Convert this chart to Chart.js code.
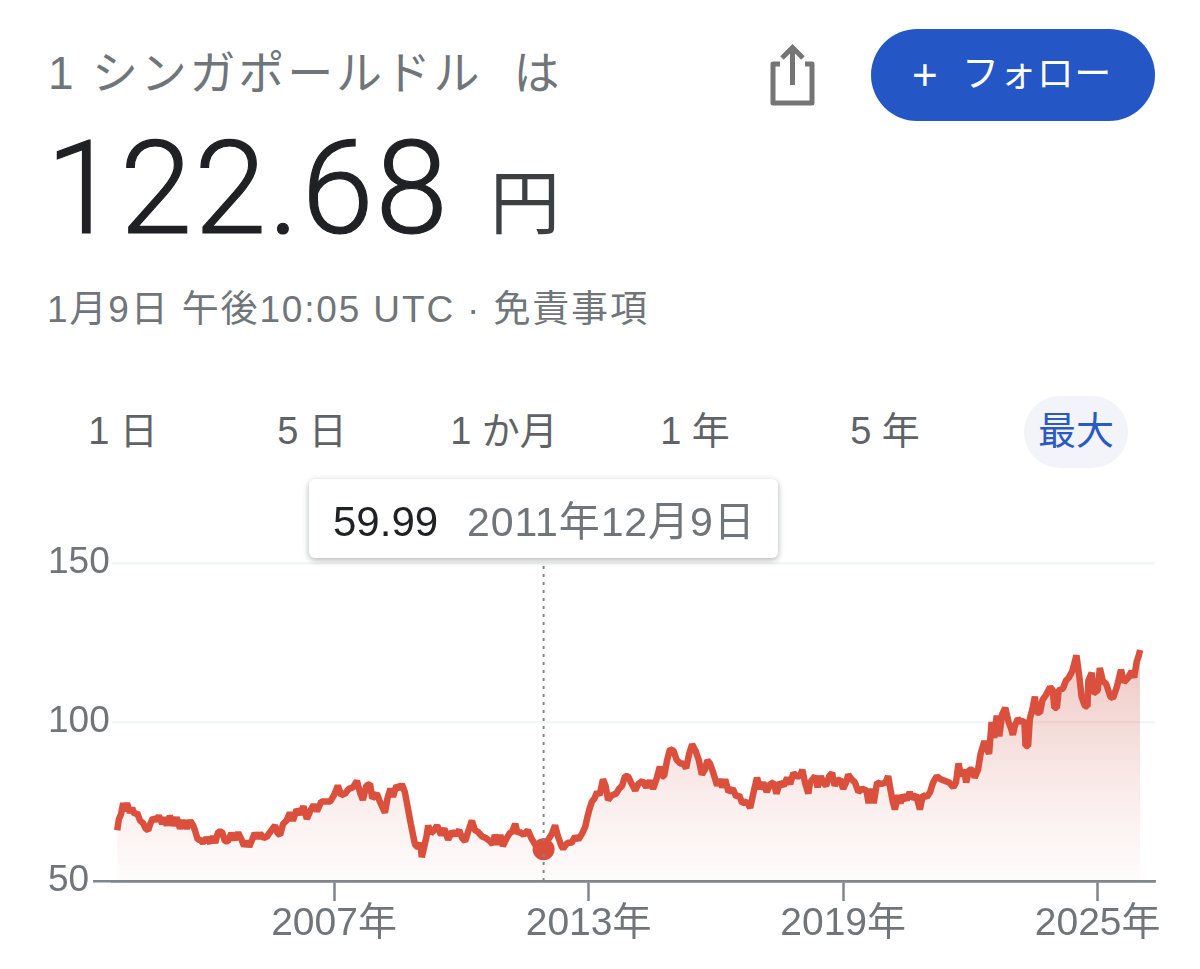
<!DOCTYPE html>
<html lang="ja">
<head>
<meta charset="UTF-8">
<title>SGD/JPY</title>
<script src="https://cdn.jsdelivr.net/npm/chart.js"></script>
<style>
  body { margin: 0; background: #fff; width: 1200px; height: 969px; overflow: hidden; position: relative;
         font-family: "Liberation Sans", "Noto Sans CJK JP", sans-serif; color: #70757a; }
  .t { position: absolute; white-space: pre; line-height: 1; }
  .tab { font-size: 38px; top: 412px; transform: translateX(-50%); color: #5f6368; }
  #chartBox { position: absolute; left: 0; top: 538px; }
  #btn { position: absolute; left: 871px; top: 29px; width: 284px; height: 92px; border-radius: 46px; background: #2456c6; }
  #bubble { position: absolute; left: 1024px; top: 396px; width: 104px; height: 72px; border-radius: 36px; background: #f2f4f9; }
  #tip { position: absolute; left: 309px; top: 479px; width: 469px; height: 79px; background: #fff; border-radius: 6px;
         box-shadow: 0 2px 6px rgba(60,64,67,.4); z-index: 2; }
</style>
</head>
<body>
  <div class="t" style="left:48px;top:50px;font-size:46px;letter-spacing:2.8px">1 シンガポールドル  は</div>
  <div class="t" style="left:46px;top:124px;font-size:130px;letter-spacing:2px;font-family:Roboto,sans-serif;font-weight:300;color:#202124;-webkit-text-stroke:1.2px #202124">122.68</div>
  <div class="t" style="left:490px;top:170px;font-size:70px;color:#3c4043">円</div>
  <div class="t" style="left:47px;top:291px;font-size:37px;letter-spacing:1.85px">1月9日 午後10:05 UTC · 免責事項</div>

  <svg style="position:absolute;left:765px;top:40px" width="56" height="70" viewBox="0 0 56 70" fill="none" stroke="#757575" stroke-width="5">
    <path d="M15 24H8v39h39V24h-7" stroke-linejoin="round"/>
    <path d="M27.5 8v37M17 18L27.5 7.500 38 18"/>
  </svg>
  <div id="btn"></div>
  <div class="t" style="left:912px;top:53px;font-size:44px;color:#fff">+</div>
  <div class="t" style="left:962px;top:56px;font-size:37px;letter-spacing:0.4px;color:#fff">フォロー</div>

  <div id="bubble"></div>
  <div class="t tab" style="left:123px">1 日</div>
  <div class="t tab" style="left:312px">5 日</div>
  <div class="t tab" style="left:504px">1 か月</div>
  <div class="t tab" style="left:695px">1 年</div>
  <div class="t tab" style="left:885px">5 年</div>
  <div class="t tab" style="left:1076px;color:#2a5bc4">最大</div>

  <div id="tip">
    <div class="t" style="left:24px;top:22px;font-size:42px;color:#202124">59.99</div>
    <div class="t" style="left:158px;top:23px;font-size:41px;letter-spacing:0.9px;color:#70757a">2011年12月9日</div>
  </div>

  <div id="chartBox"><canvas id="myChart" width="1200" height="431"></canvas></div>

<script>
  // decimal years
  const dates = [
    2001.89, 2001.93, 2001.98, 2002.03, 2002.07, 2002.12, 2002.19, 2002.24, 2002.30, 2002.36,
    2002.43, 2002.50, 2002.56, 2002.62, 2002.67, 2002.73, 2002.80, 2002.87, 2002.95, 2003.00,
    2003.06, 2003.13, 2003.21, 2003.29, 2003.37, 2003.45, 2003.53, 2003.61, 2003.68, 2003.72,
    2003.79, 2003.85, 2003.91, 2003.99, 2004.08, 2004.14, 2004.20, 2004.27, 2004.36, 2004.43,
    2004.50, 2004.58, 2004.66, 2004.74, 2004.82, 2004.88, 2004.95, 2005.00, 2005.07, 2005.13,
    2005.20, 2005.26, 2005.34, 2005.42, 2005.50, 2005.61, 2005.67, 2005.73, 2005.80, 2005.88,
    2005.96, 2006.03, 2006.12, 2006.20, 2006.28, 2006.36, 2006.44, 2006.52, 2006.60, 2006.70,
    2006.80, 2006.91, 2007.00, 2007.09, 2007.17, 2007.26, 2007.35, 2007.45, 2007.54, 2007.61,
    2007.68, 2007.76, 2007.85, 2007.90, 2008.01, 2008.08, 2008.20, 2008.26, 2008.33, 2008.39,
    2008.47, 2008.55, 2008.60, 2008.67, 2008.74, 2008.81, 2008.87, 2008.91, 2008.98, 2009.03,
    2009.07, 2009.13, 2009.18, 2009.22, 2009.28, 2009.36, 2009.43, 2009.52, 2009.60, 2009.69,
    2009.78, 2009.86, 2009.95, 2010.02, 2010.09, 2010.16, 2010.25, 2010.32, 2010.39, 2010.49,
    2010.58, 2010.68, 2010.74, 2010.79, 2010.87, 2010.92, 2010.98, 2011.07, 2011.14, 2011.20,
    2011.27, 2011.33, 2011.38, 2011.47, 2011.57, 2011.65, 2011.74, 2011.80, 2011.94, 2012.05,
    2012.14, 2012.21, 2012.28, 2012.36, 2012.40, 2012.50, 2012.60, 2012.68, 2012.76, 2012.85,
    2012.92, 2012.97, 2013.03, 2013.08, 2013.14, 2013.20, 2013.26, 2013.34, 2013.40, 2013.46,
    2013.55, 2013.65, 2013.72, 2013.79, 2013.86, 2013.93, 2014.00, 2014.10, 2014.17, 2014.27,
    2014.36, 2014.44, 2014.52, 2014.60, 2014.68, 2014.73, 2014.78, 2014.85, 2014.92, 2015.00,
    2015.08, 2015.16, 2015.23, 2015.30, 2015.37, 2015.44, 2015.52, 2015.60, 2015.67, 2015.74,
    2015.80, 2015.86, 2015.94, 2016.03, 2016.09, 2016.15, 2016.22, 2016.30, 2016.40, 2016.48,
    2016.55, 2016.62, 2016.72, 2016.81, 2016.89, 2016.97, 2017.05, 2017.12, 2017.20, 2017.28,
    2017.36, 2017.43, 2017.51, 2017.60, 2017.68, 2017.75, 2017.83, 2017.90, 2017.98, 2018.04,
    2018.10, 2018.18, 2018.22, 2018.28, 2018.34, 2018.40, 2018.47, 2018.53, 2018.60, 2018.67,
    2018.74, 2018.80, 2018.86, 2018.93, 2019.00, 2019.07, 2019.12, 2019.20, 2019.28, 2019.36,
    2019.45, 2019.55, 2019.60, 2019.67, 2019.72, 2019.80, 2019.90, 2020.00, 2020.06, 2020.12,
    2020.17, 2020.22, 2020.30, 2020.35, 2020.41, 2020.50, 2020.57, 2020.62, 2020.72, 2020.81,
    2020.88, 2020.98, 2021.05, 2021.12, 2021.21, 2021.30, 2021.40, 2021.50, 2021.60, 2021.66,
    2021.72, 2021.78, 2021.85, 2021.90, 2021.97, 2022.05, 2022.10, 2022.18, 2022.24, 2022.33,
    2022.38, 2022.44, 2022.50, 2022.56, 2022.62, 2022.68, 2022.75, 2022.82, 2022.90, 2022.96,
    2023.00, 2023.05, 2023.12, 2023.20, 2023.27, 2023.30, 2023.36, 2023.40, 2023.46, 2023.52,
    2023.56, 2023.64, 2023.70, 2023.78, 2023.88, 2023.94, 2023.98, 2024.04, 2024.08, 2024.18,
    2024.25, 2024.32, 2024.40, 2024.50, 2024.57, 2024.62, 2024.70, 2024.76, 2024.78, 2024.86,
    2024.90, 2025.00, 2025.05, 2025.12, 2025.20, 2025.30, 2025.36, 2025.45, 2025.55, 2025.62,
    2025.72, 2025.80, 2025.86, 2025.92, 2025.97, 2026.00
  ];
  const rates = [
    66.0, 69.5, 71.0, 74.5, 72.0, 74.5, 71.5, 73.0, 71.0, 71.4,
    69.0, 68.2, 66.5, 66.0, 68.0, 69.8, 69.0, 70.5, 68.0, 70.0,
    67.5, 70.5, 67.5, 70.0, 66.5, 69.0, 66.5, 69.0, 67.5, 66.0,
    63.0, 63.0, 62.0, 63.5, 62.0, 64.0, 62.0, 65.5, 65.5, 62.5,
    62.5, 65.0, 63.0, 65.2, 63.0, 61.0, 62.5, 60.8, 63.0, 65.0,
    63.5, 65.0, 63.5, 64.0, 65.5, 67.5, 65.0, 64.5, 68.0, 69.0,
    71.5, 69.0, 72.5, 71.0, 73.5, 69.5, 72.0, 74.0, 72.0, 75.0,
    75.0, 75.0, 77.0, 80.0, 77.0, 77.5, 79.0, 79.5, 81.5, 78.0,
    75.5, 80.0, 80.5, 76.0, 77.5, 75.0, 71.5, 76.0, 79.0, 76.5,
    80.0, 79.0, 80.5, 78.0, 73.0, 68.0, 64.0, 61.5, 60.5, 62.0,
    57.5, 61.0, 64.0, 67.5, 65.0, 66.0, 67.5, 64.5, 66.5, 63.0,
    65.5, 64.5, 66.0, 63.5, 62.5, 65.5, 69.0, 66.0, 65.5, 64.0,
    63.5, 62.5, 61.5, 64.5, 61.5, 64.5, 61.0, 63.5, 65.0, 65.5,
    68.0, 65.0, 65.5, 64.5, 66.0, 63.5, 61.5, 61.0, 59.99, 63.0,
    65.0, 67.5, 64.0, 61.0, 60.2, 62.0, 62.0, 64.0, 63.0, 65.0,
    67.0, 70.0, 73.0, 75.0, 76.0, 78.0, 77.0, 82.0, 80.0, 75.5,
    77.0, 77.5, 79.0, 80.0, 83.0, 83.0, 81.0, 78.5, 80.5, 81.5,
    79.5, 81.5, 79.0, 82.0, 86.0, 83.0, 83.0, 88.0, 91.5, 91.0,
    88.0, 87.0, 87.0, 85.5, 90.0, 93.0, 91.0, 88.0, 83.5, 85.0,
    88.0, 87.0, 84.0, 80.0, 82.0, 79.5, 82.0, 78.0, 79.0, 76.5,
    77.0, 74.5, 75.0, 73.0, 78.0, 82.5, 79.0, 81.0, 78.0, 80.5,
    81.0, 77.5, 81.0, 80.0, 82.5, 80.5, 84.0, 83.0, 83.0, 85.0,
    81.0, 77.5, 81.0, 82.0, 83.0, 79.5, 83.0, 81.0, 80.0, 83.0,
    84.0, 80.0, 81.5, 82.0, 79.0, 81.0, 83.5, 82.0, 81.0, 78.0,
    79.0, 78.5, 74.5, 79.0, 74.5, 81.0, 80.5, 81.0, 83.0, 78.5,
    75.0, 72.5, 77.0, 74.5, 77.0, 75.5, 78.0, 76.0, 77.0, 72.5,
    77.0, 76.5, 78.0, 81.0, 83.0, 82.0, 81.5, 81.0, 79.5, 81.0,
    87.0, 83.0, 85.0, 81.0, 85.0, 85.0, 82.5, 85.0, 90.0, 94.0,
    92.0, 90.0, 100.0, 95.0, 102.0, 95.5, 102.5, 104.5, 100.0, 98.0,
    96.0, 99.0, 101.0, 100.0, 100.5, 92.5, 92.5, 101.0, 104.0, 108.0,
    103.0, 103.0, 107.0, 108.5, 111.0, 110.0, 104.5, 104.5, 110.0, 110.5,
    113.0, 114.0, 116.0, 121.0, 114.0, 108.0, 105.0, 105.0, 113.0, 115.5,
    109.0, 110.0, 117.0, 113.0, 112.0, 108.0, 107.5, 111.0, 116.5, 112.5,
    114.0, 116.0, 114.0, 119.0, 121.0, 122.68
  ];
  const yTicks = [50, 100, 150];
  const xTicks = [2007, 2013, 2019, 2025];
  const hoverDate = 2011.94;
  const hoverRate = 59.99;

  const RED = '#db4f3d';
  const AXIS = '#80868b';
  const FONT = '"Liberation Sans", "Noto Sans CJK JP", sans-serif';

  const ctx = document.getElementById('myChart');
  new Chart(ctx, {
    type: 'line',
    data: {
      datasets: [{
        data: dates.map((d, i) => ({ x: d, y: rates[i] })),
        borderColor: RED,
        borderWidth: 6.5,
        borderJoinStyle: 'bevel',
        pointRadius: 0,
        tension: 0,
        fill: 'origin',
        backgroundColor: c => {
          const area = c.chart.chartArea;
          if (!area) return 'transparent';
          const g = c.chart.ctx.createLinearGradient(0, area.top + 85, 0, area.bottom);
          g.addColorStop(0, 'rgba(200,70,55,0.30)');
          g.addColorStop(0.31, 'rgba(200,70,55,0.20)');
          g.addColorStop(0.65, 'rgba(200,70,55,0.09)');
          g.addColorStop(1, 'rgba(200,70,55,0.02)');
          return g;
        }
      }, {
        // hover guide
        data: [{ x: hoverDate, y: 50 }, { x: hoverDate, y: 150 }],
        borderColor: AXIS,
        borderWidth: 2,
        borderDash: [3, 5],
        pointRadius: 0,
        fill: false
      }, {
        data: [{ x: hoverDate, y: hoverRate }],
        pointRadius: 11,
        pointBackgroundColor: RED,
        pointBorderWidth: 0,
        showLine: false
      }]
    },
    options: {
      responsive: false,
      animation: false,
      layout: { padding: { left: 48, right: 45, top: 21, bottom: 0 } },
      plugins: { legend: { display: false }, tooltip: { enabled: false } },
      scales: {
        x: {
          type: 'linear',
          min: 2001.767,
          max: 2026.351,
          afterBuildTicks: s => { s.ticks = xTicks.map(v => ({ value: v })); },
          afterFit: s => { s.height = 88; },
          border: { color: AXIS, width: 2.5 },
          grid: { drawOnChartArea: false, tickLength: 20, tickColor: AXIS, tickWidth: 2.5 },
          ticks: {
            autoSkip: false, maxRotation: 0, padding: 0, color: '#70757a',
            font: { family: FONT, size: 39 },
            callback: v => v + '年'
          }
        },
        y: {
          min: 50,
          max: 150,
          afterBuildTicks: s => { s.ticks = yTicks.map(v => ({ value: v })); },
          afterFit: s => { s.width = 64; },
          border: { display: false },
          grid: {
            lineWidth: 2.5,
            tickLength: 19,
            color: c => c.tick.value === 50 ? AXIS : '#f4f5f6',
            tickColor: c => c.tick.value === 50 ? AXIS : 'transparent'
          },
          ticks: {
            crossAlign: 'far', color: '#70757a',
            font: { family: FONT, size: 37 }
          }
        }
      }
    }
  });
</script>
</body>
</html>
